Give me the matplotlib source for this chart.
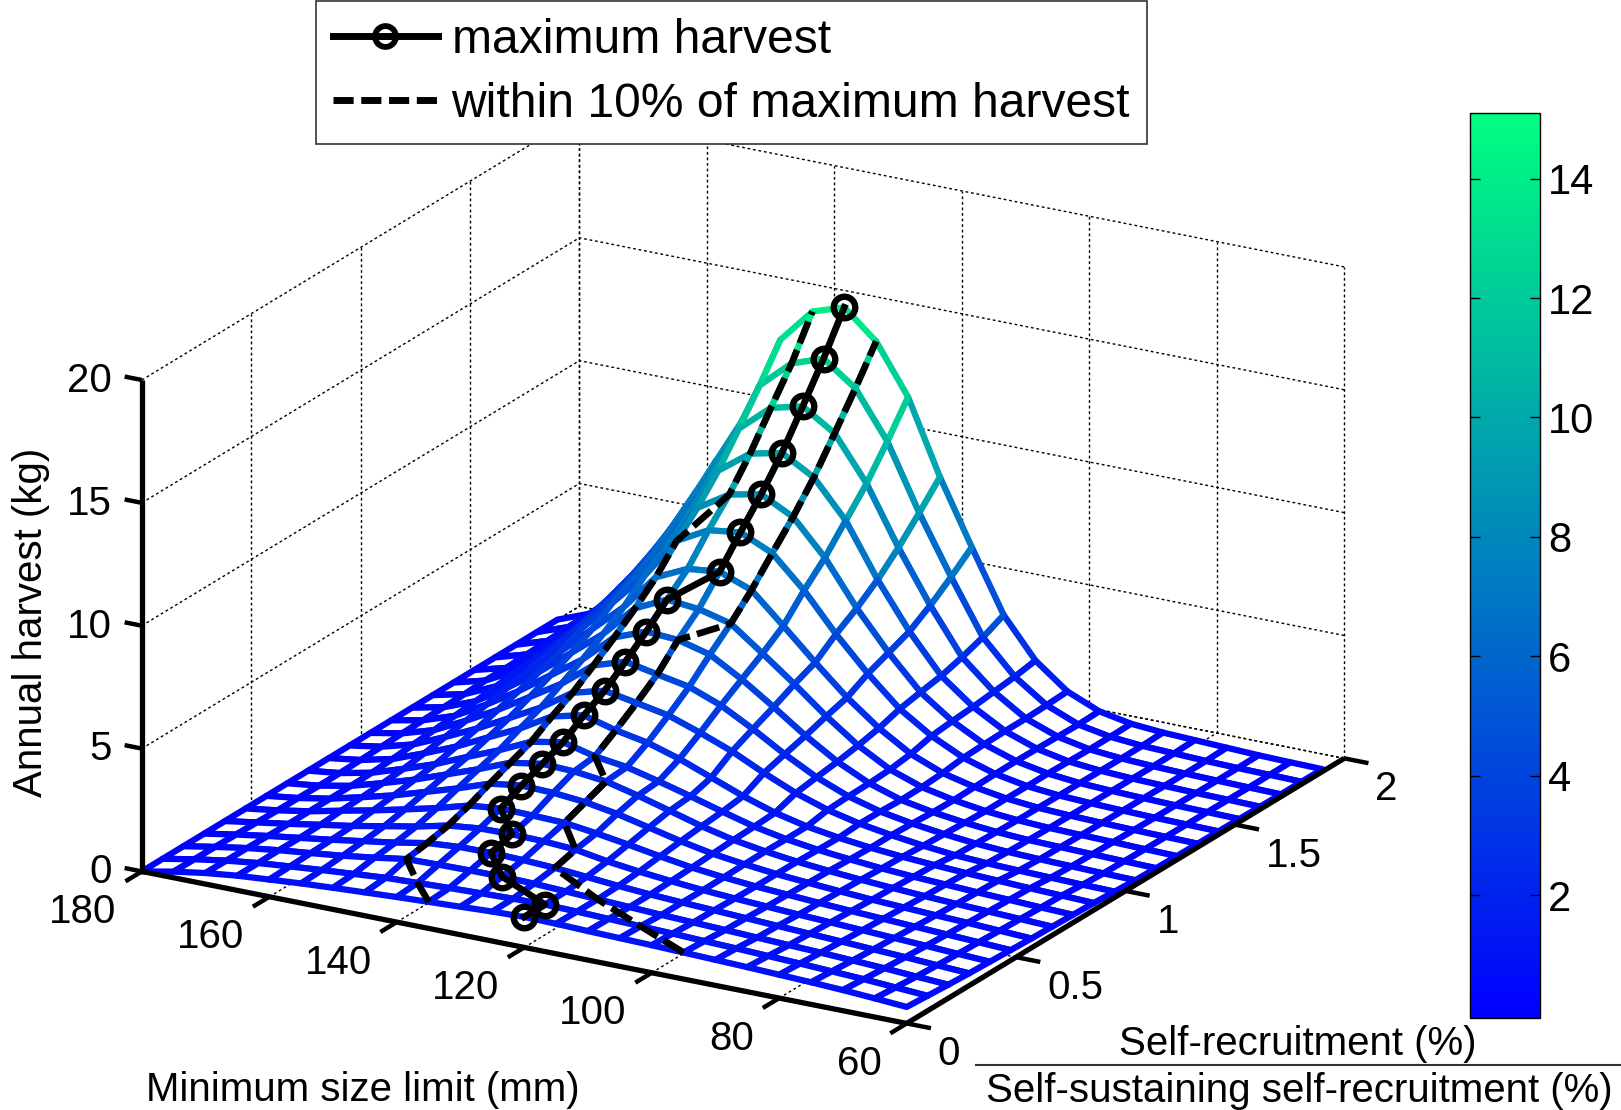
import matplotlib
matplotlib.use('Agg')
import numpy as np
from matplotlib import pyplot as plt
from matplotlib.lines import Line2D
from matplotlib.cm import ScalarMappable
from matplotlib.colors import Normalize
from mpl_toolkits.mplot3d import proj3d
from mpl_toolkits.mplot3d.art3d import Poly3DCollection

plt.rcParams['font.family'] = ['Liberation Sans', 'DejaVu Sans']

# --- DATA ---
size_limit = [60, 65, 70, 75, 80, 85, 90, 95, 100, 105, 110, 115, 120,
              125, 130, 135, 140, 145, 150, 155, 160, 165, 170, 175, 180]
self_rec = [0, 0.095, 0.19, 0.285, 0.38, 0.475, 0.57, 0.665, 0.76, 0.855, 0.95,
            1.045, 1.14, 1.235, 1.33, 1.425, 1.52, 1.615, 1.71, 1.805, 1.9]

# one row per self_rec value, one column per size_limit value
harvest = [
    [.67, .76, .84, .90, .95, 1.00, 1.04, 1.08, 1.12, 1.15, 1.18, 1.22, 1.24, 1.20, 1.14, 1.08, 1.02, .95, .88, .80, .70, .60, .45, .25, 0],
    [.61, .69, .77, .83, .89, .94, .99, 1.03, 1.08, 1.12, 1.16, 1.20, 1.23, 1.21, 1.17, 1.13, 1.08, 1.03, .93, .83, .72, .60, .44, .24, 0],
    [.55, .62, .70, .76, .82, .87, .92, .97, 1.02, 1.07, 1.13, 1.19, 1.25, 1.31, 1.34, 1.33, 1.31, 1.28, 1.08, .90, .75, .61, .44, .23, 0],
    [.50, .57, .64, .70, .76, .82, .88, .94, 1.00, 1.06, 1.13, 1.22, 1.33, 1.44, 1.50, 1.54, 1.52, 1.42, 1.18, .98, .78, .60, .42, .22, 0],
    [.46, .52, .59, .65, .71, .77, .83, .90, .97, 1.05, 1.16, 1.29, 1.45, 1.67, 1.75, 1.78, 1.76, 1.62, 1.32, 1.08, .83, .62, .40, .20, 0],
    [.42, .48, .54, .60, .66, .72, .79, .87, .95, 1.06, 1.20, 1.40, 1.62, 1.82, 1.99, 2.03, 2.06, 1.92, 1.56, 1.25, .95, .68, .40, .18, 0],
    [.38, .44, .50, .55, .61, .67, .75, .84, .94, 1.08, 1.25, 1.50, 1.80, 2.10, 2.32, 2.44, 2.48, 2.30, 1.85, 1.45, 1.05, .72, .40, .17, 0],
    [.35, .40, .45, .50, .56, .63, .71, .81, .93, 1.09, 1.30, 1.60, 1.97, 2.33, 2.65, 2.80, 2.85, 2.64, 2.12, 1.65, 1.18, .78, .41, .16, 0],
    [.32, .36, .41, .46, .52, .58, .66, .77, .90, 1.08, 1.33, 1.68, 2.05, 2.40, 2.72, 2.90, 3.22, 2.98, 2.38, 1.85, 1.30, .85, .43, .16, 0],
    [.29, .33, .37, .42, .47, .54, .62, .73, .88, 1.08, 1.38, 1.80, 2.30, 2.80, 3.20, 3.45, 3.80, 3.50, 2.75, 2.13, 1.50, .97, .48, .18, 0],
    [.24, .26, .29, .32, .36, .43, .56, .73, .94, 1.24, 1.67, 2.23, 2.85, 3.35, 3.80, 4.05, 4.29, 3.95, 3.09, 2.40, 1.72, 1.12, .56, .21, 0],
    [.19, .21, .24, .27, .31, .39, .52, .69, .92, 1.28, 1.80, 2.48, 3.25, 3.95, 4.45, 4.70, 4.96, 4.55, 3.55, 2.75, 1.97, 1.27, .63, .24, 0],
    [.17, .19, .22, .25, .28, .35, .47, .64, .88, 1.30, 1.92, 2.72, 3.63, 4.50, 5.25, 5.59, 5.67, 5.18, 4.02, 3.12, 2.22, 1.42, .70, .26, 0],
    [.15, .17, .20, .23, .26, .32, .43, .62, .89, 1.35, 2.07, 3.00, 4.05, 5.04, 6.00, 6.33, 6.46, 5.85, 4.55, 3.52, 2.50, 1.59, .78, .28, 0],
    [.14, .16, .18, .21, .25, .31, .43, .64, .95, 1.47, 2.26, 3.25, 4.42, 5.65, 6.85, 7.34, 7.20, 6.60, 5.14, 3.97, 2.79, 1.76, .88, .30, 0],
    [.13, .15, .17, .20, .24, .30, .42, .66, 1.06, 1.69, 2.53, 3.71, 5.06, 6.58, 7.84, 8.43, 8.26, 7.57, 5.90, 4.55, 3.20, 2.02, 1.01, .34, 0],
    [.12, .14, .16, .19, .23, .29, .42, .67, 1.10, 1.78, 2.70, 4.05, 5.60, 7.40, 8.80, 9.47, 9.20, 8.40, 6.50, 5.00, 3.45, 2.20, 1.05, .34, 0],
    [.11, .13, .15, .18, .22, .28, .40, .66, 1.12, 1.85, 2.85, 4.40, 6.25, 8.40, 9.90, 10.64, 10.35, 9.40, 7.20, 5.55, 3.85, 2.45, 1.17, .38, 0],
    [.10, .12, .14, .17, .21, .27, .38, .64, 1.12, 1.95, 3.10, 4.95, 7.05, 9.40, 11.18, 12.02, 11.70, 10.60, 8.05, 6.25, 4.33, 2.76, 1.32, .42, 0],
    [.10, .12, .14, .17, .22, .27, .38, .62, 1.15, 2.05, 3.40, 5.60, 7.95, 10.60, 12.50, 13.45, 13.00, 11.85, 9.00, 7.00, 4.85, 3.10, 1.48, .47, 0],
    [.10, .12, .15, .20, .25, .30, .40, .65, 1.20, 2.20, 3.80, 6.30, 8.90, 11.90, 13.90, 15.03, 14.60, 13.20, 10.05, 7.80, 5.40, 3.40, 1.60, .50, 0],
]

# size limit of each path at each self_rec value
max_path = [120, 120, 130, 135, 135, 140, 140, 140, 140, 140, 140,
            140, 140, 140, 135, 135, 135, 135, 135, 135, 135]
left_path = [135, 140, 145, 145, 145, 145, 145, 145, 145, 145, 145,
             145, 145, 145, 145, 145, 140, 140, 140, 140, 140]
right_path = [95, 105, 115, 125, 125, 130, 130, 130, 135, 135, 135,
              135, 135, 130, 130, 130, 130, 130, 130, 130, 130]

x_ticks = [60, 80, 100, 120, 140, 160, 180]
y_ticks = [0, 0.5, 1, 1.5, 2]
y_tick_labels = ['0', '0.5', '1', '1.5', '2']
z_ticks = [0, 5, 10, 15, 20]
cbar_ticks = [2, 4, 6, 8, 10, 12, 14]

W, H = 1621, 1110
TICK_FS = 29
LABEL_FS = 29

fig = plt.figure(figsize=(W / 100, H / 100), dpi=100, facecolor='white')
ax = fig.add_axes([69.3 / W, -132.9 / H, 1312 / W, 1312 / H], projection='3d',
                  proj_type='ortho', computed_zorder=False)
ax.set_axis_off()
ax.set_xlim(180, 60)
ax.set_ylim(0, 2)
ax.set_zlim(0, 20)
ax.set_box_aspect((852, 851, 506.5))
ax.view_init(elev=20.3, azim=-60.2)


def label_3d(x, y, z, text, ha):
    # plain 2D text placed where the 3D point lands
    px, py, _ = proj3d.proj_transform(x, y, z, ax.get_proj())
    ax.text2D(px, py, text, transform=ax.transData, ha=ha, va='center', fontsize=TICK_FS, zorder=6)


# --- dotted grid on the floor and on the two back walls ---
grid = dict(color='k', lw=1, ls=(0, (2, 2)), zorder=1)
for x in x_ticks:
    ax.plot([x, x], [0, 2], [0, 0], **grid)
    ax.plot([x, x], [2, 2], [0, 20], **grid)
for y in y_ticks:
    ax.plot([60, 180], [y, y], [0, 0], **grid)
    ax.plot([180, 180], [y, y], [0, 20], **grid)
for z in z_ticks:
    ax.plot([60, 180], [2, 2], [z, z], **grid)
    ax.plot([180, 180], [0, 2], [z, z], **grid)

# --- mesh: white cells hide what is behind, edge colour follows height ---
norm = Normalize(-0.06, 15.1)
cmap = plt.get_cmap('winter')
Z = np.array(harvest)
cells = []
cell_colors = []
for i in range(len(self_rec) - 1):
    for j in range(len(size_limit) - 1):
        cells.append([(size_limit[j], self_rec[i], Z[i, j]),
                      (size_limit[j + 1], self_rec[i], Z[i, j + 1]),
                      (size_limit[j + 1], self_rec[i + 1], Z[i + 1, j + 1]),
                      (size_limit[j], self_rec[i + 1], Z[i + 1, j])])
        cell_colors.append(cmap(norm(Z[i:i + 2, j:j + 2].mean())))
mesh = Poly3DCollection(cells, facecolors='white', edgecolors=cell_colors,
                        linewidths=4.5, zorder=2)
ax.add_collection3d(mesh)


def on_surface(path):
    return [Z[i, size_limit.index(x)] for i, x in enumerate(path)]


dash_style = (0, (3.5, 1.1))
ax.plot(left_path, self_rec, on_surface(left_path), color='k', lw=4.8, ls=dash_style, zorder=3)
ax.plot(right_path, self_rec, on_surface(right_path), color='k', lw=4.8, ls=dash_style, zorder=3)
ax.plot(max_path, self_rec, on_surface(max_path), color='k', lw=4.8, marker='o', ms=15.5,
        mew=4.6, mfc='none', zorder=4)

# --- axis lines, ticks and tick labels ---
axis_line = dict(color='k', lw=3.8, solid_capstyle='butt', zorder=5)
tick_line = dict(color='k', lw=3.2, solid_capstyle='butt', zorder=5)
ax.plot([180, 60], [0, 0], [0, 0], **axis_line)
ax.plot([60, 60], [0, 2], [0, 0], **axis_line)
ax.plot([180, 180], [0, 0], [0, 20], **axis_line)
for x in x_ticks:
    ax.plot([x, x], [0, -0.075], [0, 0], **tick_line)
    label_3d(x - 4.3, -0.24, -0.13, str(x), 'right')
for y, label in zip(y_ticks, y_tick_labels):
    ax.plot([60, 56.2], [y, y], [0, 0], **tick_line)
    label_3d(50.9, y - 0.123, -0.13, label, 'left')
for z in z_ticks:
    ax.plot([180, 182.7], [0, 0], [z, z], **tick_line)
    label_3d(184.7, 0, z - 0.28, str(z), 'right')

# --- axis labels ---
fig.text(363 / W, 1 - 1090 / H, 'Minimum size limit (mm)', ha='center', va='center', fontsize=LABEL_FS)
fig.text(31 / W, 1 - 622 / H, 'Annual harvest (kg)', ha='center', va='center', rotation=90, fontsize=LABEL_FS)
fig.text(1298 / W, 1 - 1044 / H, 'Self-recruitment (%)', ha='center', va='center', fontsize=LABEL_FS)
fig.text(1299 / W, 1 - 1091 / H, 'Self-sustaining self-recruitment (%)', ha='center', va='center', fontsize=LABEL_FS)
fig.add_artist(Line2D([976 / W, 1], [1 - 1065 / H, 1 - 1065 / H], color='#333333', lw=1.5))

# --- colorbar ---
cax = fig.add_axes([1470 / W, 1 - 1018 / H, 70 / W, 905 / H])
cbar = fig.colorbar(ScalarMappable(norm=norm, cmap=cmap), cax=cax, ticks=cbar_ticks)
cbar.ax.tick_params(labelsize=30, direction='in', length=7, width=1, left=True, right=True, pad=6)
cbar.outline.set_linewidth(1)

# --- legend ---
handles = [Line2D([], [], color='k', lw=5, marker='o', ms=15, mew=4.2, mfc='none'),
           Line2D([], [], color='k', lw=5, ls=(0, (2.9, 1.1)))]
leg = fig.legend(handles, ['maximum harvest', 'within 10% of maximum harvest'], loc='upper left',
                 bbox_to_anchor=(316 / W, 1 - 1 / H), borderaxespad=0, fancybox=False, framealpha=1,
                 edgecolor='#333333', fontsize=34.6, handlelength=2.19, handletextpad=0.28,
                 labelspacing=0.40, borderpad=0.35)
leg.get_frame().set_linewidth(1.2)

fig.savefig('out.png', dpi=100)
